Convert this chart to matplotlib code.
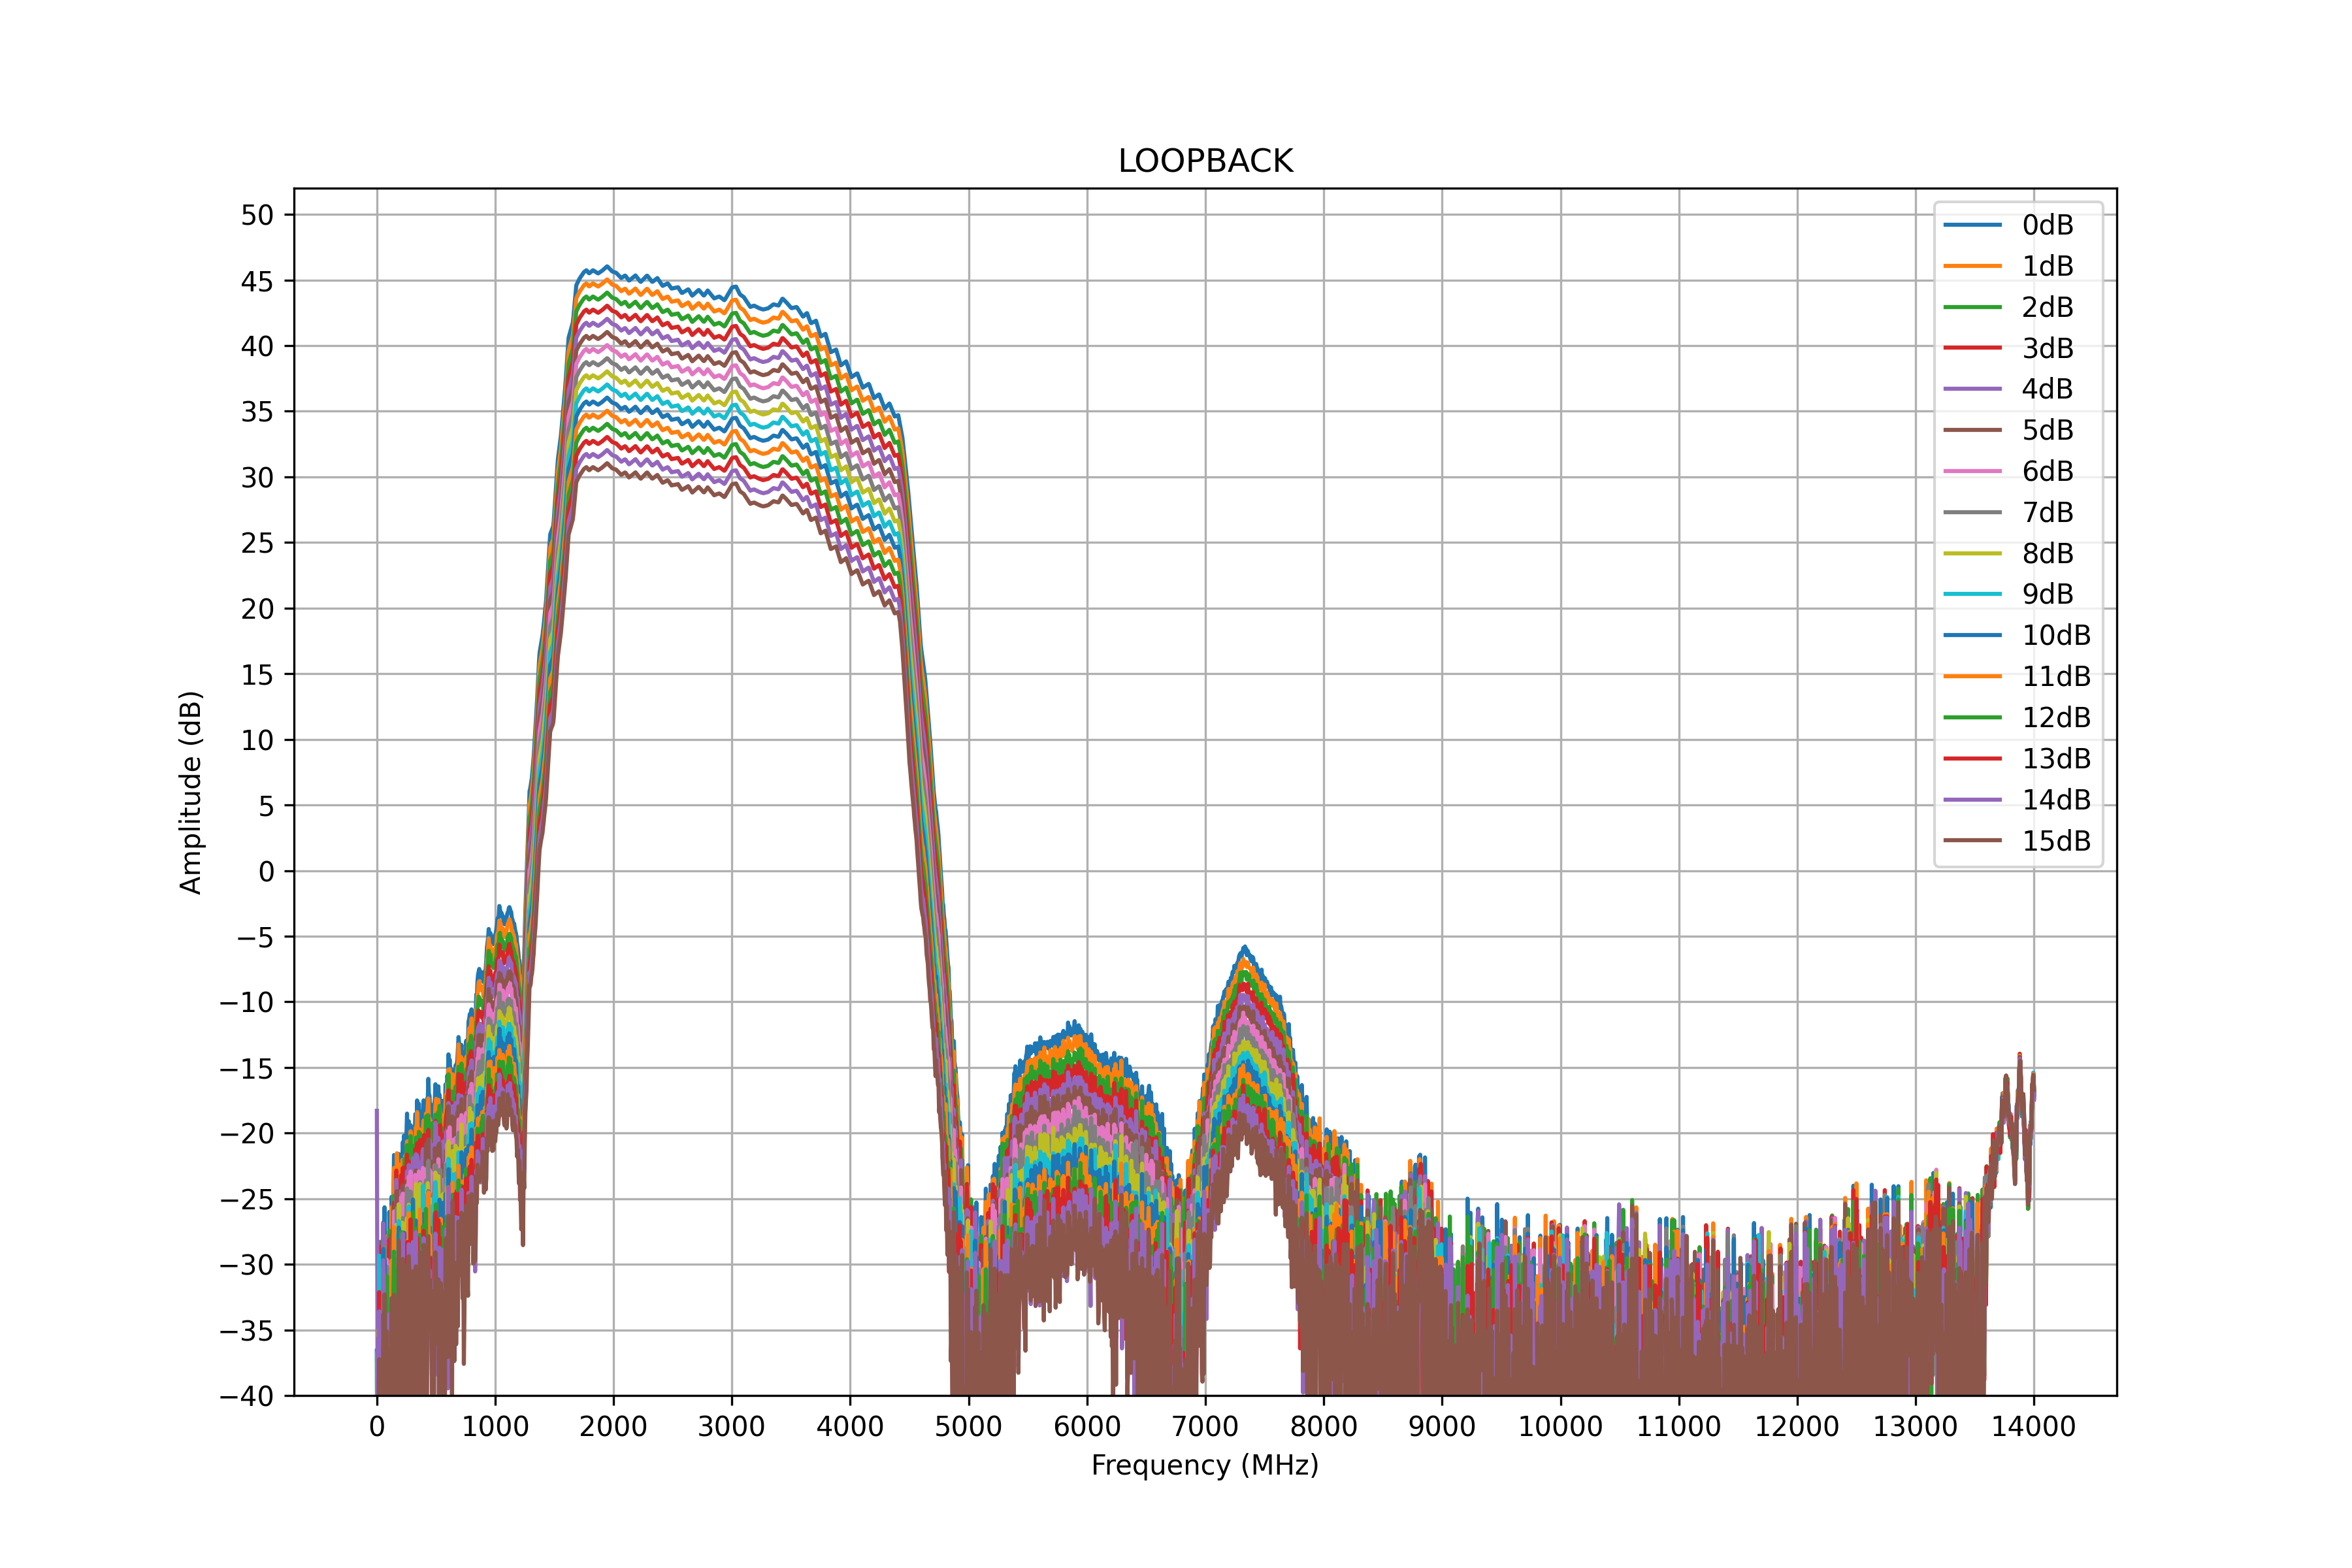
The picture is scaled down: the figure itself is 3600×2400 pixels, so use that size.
import numpy as np
import matplotlib
matplotlib.use("Agg")
import matplotlib.pyplot as plt

# ---------------------------------------------------------------- data
ATTEN_DB = list(range(16))
LABELS = [f"{k}dB" for k in ATTEN_DB]

# 0 dB trace (signal level): frequency (MHz) / level (dB)
SIG_F = [0, 30, 70, 110, 162, 205, 250, 295, 343, 388, 431, 470, 512, 560, 610, 650,
         690, 740, 790, 825, 862, 905, 945, 990, 1037, 1080, 1121, 1180, 1215, 1235, 1253,
         1272, 1290, 1309, 1327, 1355, 1373, 1401, 1428, 1464, 1492, 1529, 1556, 1593,
         1620, 1657, 1685, 1712, 1749, 1771, 1793, 1826, 1869, 1902, 1946, 1989, 2022,
         2065, 2098, 2131, 2185, 2229, 2283, 2327, 2370, 2414, 2458, 2490, 2545, 2577,
         2632, 2664, 2719, 2763, 2795, 2850, 2893, 2937, 3002, 3035, 3068, 3100, 3155,
         3187, 3231, 3264, 3307, 3351, 3394, 3427, 3460, 3503, 3547, 3601, 3634, 3667,
         3710, 3750, 3790, 3835, 3880, 3920, 3965, 4010, 4059, 4105, 4157, 4200, 4244,
         4290, 4331, 4375, 4405, 4440, 4462, 4490, 4514, 4560, 4596, 4633, 4670, 4706,
         4743, 4780, 4817, 4853, 4890, 4927, 4963, 5000, 5073, 5147, 5203, 5258, 5313,
         5387, 5460, 5535, 5645, 5737, 5829, 5922, 6009, 6106, 6180, 6272, 6364, 6438,
         6548, 6622, 6677, 6732, 6788, 6862, 6932, 7006, 7079, 7153, 7227, 7300, 7337,
         7392, 7484, 7558, 7632, 7705, 7779, 7834, 7908, 8000, 8040, 8112, 8204, 8297,
         8389, 8481, 8573, 8646, 8738, 8790, 8849, 8904, 8996, 9110, 9200, 9300, 9405,
         9503, 9640, 9800, 9896, 9994, 10171, 10289, 10450, 10544, 10700, 11000, 11500,
         12000, 12300, 12500, 12700, 12900, 13050, 13140, 13220, 13400, 13500, 13560,
         13600, 13650, 13700, 13770, 13834, 13880, 13954, 13991, 14000]
SIG_0DB = [-36, -33, -29.5, -28.5, -22.5, -24.5, -19.5, -21.5, -18.2, -20, -16.8, -18.8,
           -16.9, -18.2, -14.7, -16.5, -12.9, -14.8, -10.4, -12.2, -7.2, -8.7, -4.6, -5.5,
           -2.9, -4.0, -2.7, -5.0, -7.8, -9.5, -3.5, 1.3, 6.0, 7.0, 8.9, 13.2, 16.5, 18.0,
           20.3, 25.6, 26.3, 31.3, 33.2, 37.0, 40.6, 41.8, 44.6, 45.1, 45.6, 45.75, 45.5,
           45.75, 45.5, 45.7, 46.05, 45.65, 45.55, 45.15, 45.35, 44.95, 45.35, 44.85, 45.35,
           44.85, 45.15, 44.55, 44.75, 44.35, 44.45, 44.0, 44.3, 43.8, 44.25, 43.8, 44.2,
           43.6, 43.75, 43.45, 44.45, 44.5, 43.9, 43.7, 42.95, 43.05, 42.85, 42.75, 42.85,
           43.15, 43.05, 43.6, 43.3, 42.85, 42.95, 42.2, 42.5, 41.7, 41.9, 40.7, 40.9,
           39.5, 39.7, 38.5, 38.8, 37.6, 37.9, 36.8, 37.1, 36.0, 36.3, 35.2, 35.6, 34.6,
           34.7, 33.0, 31.2, 28.8, 26.3, 21.7, 17.1, 14.6, 10.5, 5.9, 2.9, -2.2, -5.8,
           -11.4, -15.4, -20.5, -24.0, -27, -30, -28.5, -26, -23.5, -20, -16.3, -14.7,
           -13.5, -13.3, -13.0, -12.3, -12.1, -13.0, -14.1, -14.7, -14.8, -15.1, -17.1,
           -17.5, -20.1, -23.7, -25.0, -24.5, -23.5, -19.5, -15.5, -11.8, -9.6, -7.9,
           -6.4, -6.0, -6.8, -8.2, -9.0, -10.3, -12.4, -16.3, -18.7, -19.9, -21.0, -20.5,
           -21.6, -23.0, -26.5, -30, -31, -30, -28, -26, -24.5, -26, -29, -34, -36, -34,
           -30, -33, -34, -35, -35, -35, -38, -35, -36, -35, -31, -36, -37, -37,
           -37, -36, -33, -34, -34, -31, -26, -32, -33, -35, -32, -25, -22.5, -21,
           -16, -23.5, -15, -23.8, -16, -17]

# level lost per attenuation step (dB per dB of attenuation)
STEP_F = [0, 1150, 1235, 1300, 4420, 4500, 4880, 5000, 6700, 6950, 7900, 8100, 9000,
          10000, 12000, 13000, 13550, 13620, 14000]
STEP_DB = [1.0, 1.0, 1.1, 1.0, 1.0, 1.3, 1.3, 1.05, 1.05, 0.9, 0.9, 0.8, 0.6, 0.4,
           0.4, 0.3, 0.2, 0.0, 0.0]

# receiver noise level (dB)
NOISE_F = [0, 1000, 1150, 1300, 4400, 4900, 5250, 5500, 6000, 6250, 6700, 7000, 7800,
           8000, 8300, 9000, 9300, 9600, 10000, 10400, 10550, 10700, 11000, 11500, 12000,
           12300, 12500, 13000, 13400, 13550, 13620, 14000]
NOISE_DB = [-36.5, -36.5, -38, -39, -39, -36, -36, -39, -39, -36, -36, -37.5, -37.5,
            -35.5, -34.5, -35, -34, -35.5, -35, -35.5, -33.5, -35.5, -34.5, -35.5, -34.5,
            -34.5, -32.5, -32.5, -33, -33.5, -38, -38]

# noise fluctuation pattern (one digit per frequency bin) and the value of each digit
FLUCT_DIGITS = (
    "1415926535897932384626433832795028841971693993751058209749445923078164062862089986280348253421170679"
    "8214808651328230664709384460955058223172535940812848111745028410270193852110555964462294895493038196"
    "4428810975665933446128475648233786783165271201909145648566923460348610454326648213393607260249141273"
    "7245870066063155881748815209209628292540917153643678925903600113305305488204665213841469519415116094"
    "3305727036575959195309218611738193261179310511854807446237996274956735188575272489122793818301194912"
    "9833673362440656643086021394946395224737190702179860943702770539217176293176752384674818467669405132"
    "0005681271452635608277857713427577896091736371787214684409012249534301465495853710507922796892589235"
    "4201995611212902196086403441815981362977477130996051870721134999999837297804995105973173281609631859"
    "5024459455346908302642522308253344685035261931188171010003137838752886587533208381420617177669147303"
    "5982534904287554687311595628638823537875937519577818577805321712268066130019278766111959092164201989"
)
DIGIT_VALUE = [-1.3, -1.0, -0.75, -0.5, -0.25, 0.0, 0.25, 0.5, 0.85, 1.5]
SHARED_WEIGHT = 0.75   # fluctuation common to all traces
OWN_WEIGHT = 0.45      # fluctuation specific to each trace

DC_SPIKE_SERIES = 4
DC_SPIKE_DB = -18.3

# ---------------------------------------------------------------- build traces
freq = np.arange(0, 14001, 5)
sig0 = np.interp(freq, SIG_F, SIG_0DB)
step = np.interp(freq, STEP_F, STEP_DB)
noise = np.interp(freq, NOISE_F, NOISE_DB)
vals = np.array([DIGIT_VALUE[int(ch)] for ch in FLUCT_DIGITS])
idx = np.arange(len(freq))
shared = vals[idx % len(vals)]

traces = []
for k in ATTEN_DB:
    own = vals[(3 * idx + 500 + 61 * k) % len(vals)]
    c = SHARED_WEIGHT * shared + OWN_WEIGHT * own
    amp = 10 ** ((sig0 - k * step) / 20) + 10 ** (noise / 20) * c
    y = 20 * np.log10(np.abs(amp) + 1e-4)
    if k == DC_SPIKE_SERIES:
        y[0] = DC_SPIKE_DB
    traces.append(y)

# ---------------------------------------------------------------- plot
fig, ax = plt.subplots(figsize=(12, 8), dpi=300)
for y, lab in zip(traces, LABELS):
    ax.plot(freq, y, label=lab)

ax.set_xticks(np.arange(0, 14001, 1000))
ax.set_yticks(np.arange(-40, 51, 5))
ax.set_ylim(-40, 52)
ax.set_xlabel("Frequency (MHz)")
ax.set_ylabel("Amplitude (dB)")
ax.set_title("LOOPBACK")
ax.grid(True)
ax.legend(loc="upper right")
fig.savefig("out.png", dpi=300)
